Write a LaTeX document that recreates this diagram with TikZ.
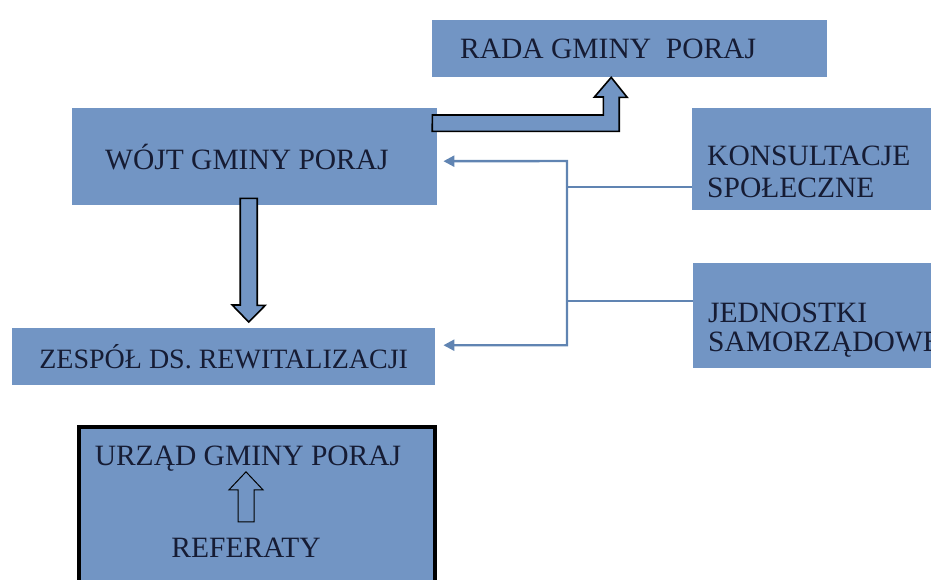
\documentclass[tikz,border=0pt]{standalone}
\usepackage{fontspec}
\setmainfont{Liberation Serif}
\usetikzlibrary{arrows.meta,positioning}
\definecolor{boxblue}{RGB}{114,149,196}
\definecolor{inkblue}{RGB}{22,28,52}
\definecolor{linkblue}{RGB}{96,132,178}
\newcommand{\boxfont}{\fontsize{29.5}{32}\selectfont}

\begin{document}
\begin{tikzpicture}[
  x=1pt,y=-1pt,
  box/.style={fill=boxblue,text=inkblue,anchor=north west,inner ysep=0pt,font=\boxfont},
  frame/.style={draw=black,line width=3.5pt,fill=boxblue,anchor=north west,inner sep=0pt},
  lbl/.style={text=inkblue,inner sep=0pt,font=\boxfont},
  fat/.style={fill=boxblue,draw=black,line width=1.6pt,line join=miter},
  hollow/.style={fill=boxblue,draw=black,line width=1pt,line join=miter},
  link/.style={draw=linkblue,line width=2.4pt,line join=miter},
  tip/.style={{Triangle[length=11pt,width=11pt]}-{Triangle[length=11pt,width=11pt]}}
]
\useasboundingbox (0,0) rectangle (931,579);
\clip (0,0) rectangle (931,579);
% boxes
\node[box,minimum height=57pt,inner xsep=28pt,text width=339pt] (rada) at (432,20) {\spaceskip=0pt RADA GMINY\ \ PORAJ};
\node[box,minimum height=97pt,inner xsep=33pt,text width=299pt] (wojt) at (72,108) {\spaceskip=0pt WÓJT GMINY PORAJ};
\node[box,minimum height=57pt,minimum width=423pt,inner xsep=0pt,font=\fontsize{28}{32}\selectfont] (zespol) at (12,328) {ZESPÓŁ DS. REWITALIZACJI};
\node[box,align=left,minimum height=102pt,inner xsep=15pt,text width=240pt] (konsult) at (692,108) {\rule{0pt}{44pt}KONSULTACJE\\SPOŁECZNE};
\node[box,align=left,minimum height=105pt,inner xsep=15pt,text width=240pt] (jedn) at (693,263) {\rule{0pt}{48pt}JEDNOSTKI\\[-3pt]SAMORZĄDOWE};
\node[frame,minimum width=356pt,minimum height=180pt] (urzad) at (77,425) {};
\node[lbl,anchor=base] (urzadtxt) at (248,465) {URZĄD GMINY PORAJ};
\node[lbl,anchor=base] (referaty) at (246,557) {REFERATY};
% block arrows
\draw[fat] ([xshift=-5pt,yshift=-7pt]wojt.north east) -- ++(171,0) -- ++(0,-18) -- ++(-9,0)
  -- ([xshift=-18.5pt]rada.south) -- ++(16,20) -- ++(-8,0) -- ++(0,34) -- ++(-187,0) -- cycle;
\draw[fat] ([xshift=-14.5pt,yshift=7pt]wojt.south) -- ++(17,0) -- ++(0,107) -- ++(8,0)
  -- ([xshift=25pt,yshift=6pt]zespol.north) -- ++(-16.5,-17) -- ++(8,0) -- cycle;
\draw[hollow] ([xshift=-8pt,yshift=15.5pt]referaty.north) -- ++(16,0) -- ++(0,-32) -- ++(9,0)
  -- ++(-17,-18) -- ++(-17,18) -- ++(9,0) -- cycle;
% thin links
\coordinate (hubtop) at (567,161);
\draw[link] ([yshift=-28pt]konsult.west) -- ++(-125,0);
\draw[link] ([yshift=14.5pt]jedn.west) -- ++(-126,0);
\draw[link,tip,linkblue] ([xshift=6pt,yshift=-4.5pt]wojt.east) -- (hubtop) |- ([xshift=8pt,yshift=11.5pt]zespol.east);
\end{tikzpicture}
\end{document}
